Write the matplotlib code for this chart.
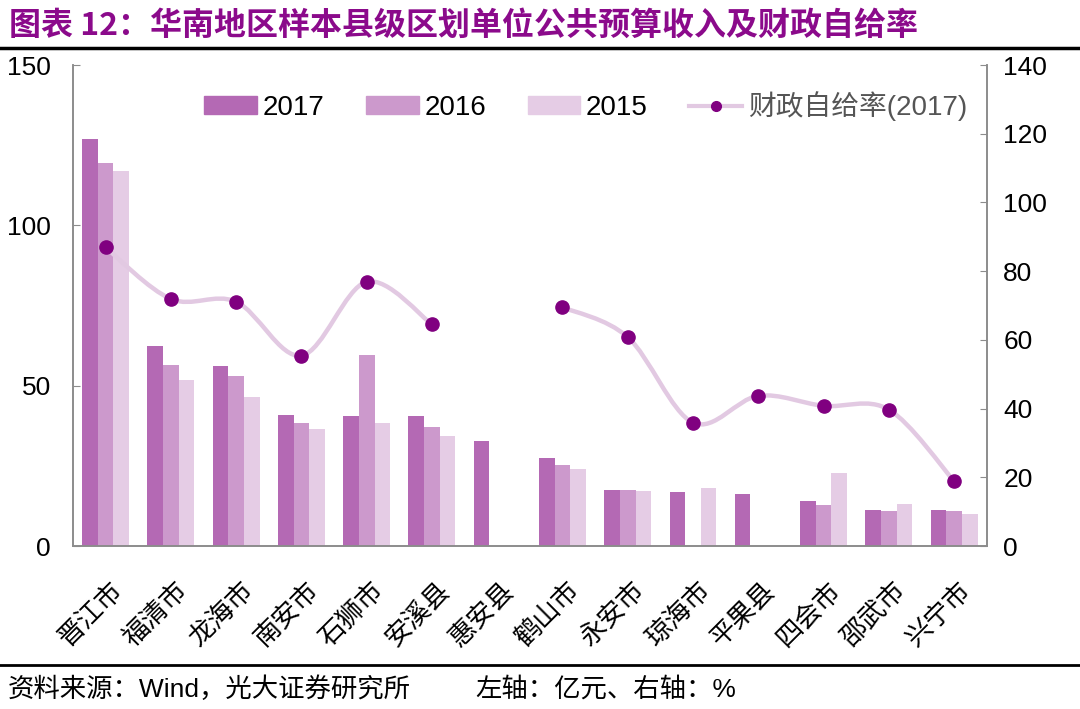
import matplotlib; matplotlib.use("Agg")
import matplotlib.pyplot as plt
import numpy as np
from matplotlib.path import Path
from matplotlib.patches import PathPatch
from matplotlib.lines import Line2D
from matplotlib.patches import Patch

plt.rcParams['font.family'] = ['Liberation Sans', 'Noto Sans CJK SC', 'DejaVu Sans']

counties = ["晋江市","福清市","龙海市","南安市","石狮市","安溪县","惠安县",
            "鹤山市","永安市","琼海市","平果县","四会市","邵武市","兴宁市"]
rev2017 = [126.8, 62.4, 56.1, 41.0, 40.6, 40.6, 32.6, 27.3, 17.6, 16.7, 16.2, 14.0, 11.3, 11.3]
rev2016 = [119.3, 56.6, 53.0, 38.5, 59.7, 37.1, np.nan, 25.2, 17.6, np.nan, np.nan, 12.7, 10.9, 10.9]
rev2015 = [117.0, 51.8, 46.5, 36.6, 38.5, 34.4, np.nan, 24.1, 17.2, 18.0, np.nan, 22.9, 13.1, 10.0]
selfrate = [86.9, 71.9, 71.1, 55.4, 76.9, 64.5, np.nan, 69.5, 60.8, 35.9, 43.7, 40.8, 39.7, 18.9]

C17, C16, C15 = "#B469B4", "#CC99CC", "#E5CCE5"
LINEC, MARKC = "#E2C9E2", "#800080"
GRAY = "#8c8c8c"

fig = plt.figure(figsize=(10.8, 7.09), dpi=100)
ax = fig.add_axes([0.0676, 0.2299, 0.846, 0.6784])
x = np.arange(len(counties)); w = 0.24
ax.bar(x - w, rev2017, w, color=C17)
ax.bar(x, rev2016, w, color=C16)
ax.bar(x + w, rev2015, w, color=C15)
ax.set_xlim(-0.5, len(counties) - 0.5)
ax.set_ylim(0, 150); ax.set_yticks([0, 50, 100, 150])
ax.set_xticks(x + 0.05); ax.set_xticklabels(counties, rotation=45, ha="right", rotation_mode="anchor",
                                            fontsize=19, family=['Noto Sans CJK SC'])
ax.tick_params(axis="x", length=0, pad=22)
ax.tick_params(axis="y", direction="in", length=5, color=GRAY, labelsize=19, pad=16)
ax.spines["top"].set_visible(False)
for s in ["left", "bottom", "right"]: ax.spines[s].set_color(GRAY); ax.spines[s].set_linewidth(1.2)

ax2 = ax.twinx()
ax2.set_ylim(0, 140); ax2.set_yticks(range(0, 141, 20))
ax2.tick_params(axis="y", direction="in", length=5, color=GRAY, labelsize=19, pad=12)
ax2.spines["top"].set_visible(False)
for s in ["left", "bottom", "right"]: ax2.spines[s].set_color(GRAY); ax2.spines[s].set_linewidth(1.2)

# smoothed line through the points (Catmull-Rom style bezier), broken at gaps
y = np.array(selfrate)
segs = []; cur = []
for i, v in enumerate(y):
    if np.isnan(v):
        if cur: segs.append(cur); cur = []
    else: cur.append(i)
if cur: segs.append(cur)
for seg in segs:
    pts = [(float(i), float(y[i])) for i in seg]
    verts = [pts[0]]; codes = [Path.MOVETO]
    for k in range(len(pts) - 1):
        p0 = np.array(pts[k - 1] if k > 0 else pts[k]); p1 = np.array(pts[k])
        p2 = np.array(pts[k + 1]); p3 = np.array(pts[k + 2] if k + 2 < len(pts) else pts[k + 1])
        c1 = p1 + (p2 - p0) / 6; c2 = p2 - (p3 - p1) / 6
        verts += [tuple(c1), tuple(c2), tuple(p2)]; codes += [Path.CURVE4] * 3
    ax2.add_patch(PathPatch(Path(verts, codes), fill=False, edgecolor=LINEC, lw=3.2, zorder=3))
ax2.plot(x, y, ls="none", marker="o", ms=9.5, color=MARKC, zorder=4)

handles = [Patch(color=C17), Patch(color=C16), Patch(color=C15),
           Line2D([0], [0], color=LINEC, lw=3, marker="o", ms=7, mfc=MARKC, mec=MARKC)]
labels = ["2017", "2016", "2015", "财政自给率(2017)"]
leg = ax2.legend(handles, labels, ncol=4, frameon=False, loc="center",
                 bbox_to_anchor=(0.561, 0.915), fontsize=20, handlelength=1.9, handleheight=0.6,
                 columnspacing=1.5, handletextpad=0.2)
for t in leg.get_texts()[3:]:
    t.set_color("#555555")

fig.text(0.008, 0.963, "图表 12：华南地区样本县级区划单位公共预算收入及财政自给率", fontsize=23,
         fontweight="bold", color="#8B0A8B", family=['Noto Sans CJK SC'], va="center")
fig.add_artist(Line2D([0, 1], [0.933, 0.933], color="black", lw=2.5))
fig.add_artist(Line2D([0, 1], [0.062, 0.062], color="black", lw=2))
fig.text(0.007, 0.028, "资料来源：Wind，光大证券研究所", fontsize=19, va="center")
fig.text(0.44, 0.028, "左轴：亿元、右轴：%", fontsize=19, va="center")

fig.savefig("out.png", dpi=100)
